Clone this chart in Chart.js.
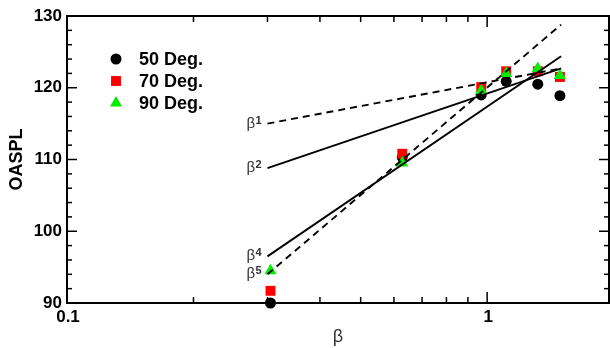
<!DOCTYPE html>
<html>
<head>
<meta charset="utf-8">
<script src="https://cdn.jsdelivr.net/npm/chart.js@4/dist/chart.umd.min.js"></script>
<style>
  body { margin: 0; background: #fff; }
  #wrap { width: 610px; height: 348px; position: relative; }
</style>
</head>
<body>
<div id="wrap"><canvas id="c"></canvas></div>
<script>
// measured OASPL vs beta for three observer angles
const beta = [0.305, 0.628, 0.968, 1.11, 1.32, 1.49];
const deg50 = [90.0, 110.3, 119.0, 120.9, 120.5, 118.9];
const deg70 = [91.7, 110.8, 120.1, 122.3, 122.3, 121.5];
const deg90 = [94.5, 109.5, 119.6, 122.0, 122.7, 121.7];

// power-law reference lines (beta^n), given at their two end points
const fitBeta = [0.3, 1.5];
const fitPowers = [1, 2, 4, 5];
const fitLevels = [
  [115.0, 122.7],
  [108.8, 122.7],
  [96.5, 124.4],
  [94.0, 128.8],
];
const fitDashed = [true, false, false, true];

const yTicks = [90, 100, 110, 120, 130];
const xTickValues = [0.1, 1];
const xTickLabels = ["0.1", "1"];

const FONT = "'Liberation Sans', Arial, Helvetica, sans-serif";

const pts = (ys) => beta.map((b, i) => ({ x: b, y: ys[i] }));

const pointSets = [
  { label: "50 Deg.", data: pts(deg50), color: "#000000", style: "circle", radius: 5.5, order: 3 },
  { label: "70 Deg.", data: pts(deg70), color: "#ff0000", style: "rect", radius: 7, order: 2 },
  { label: "90 Deg.", data: pts(deg90), color: "#00ee00", style: "triangle", radius: 7, order: 1 },
];

const datasets = pointSets.map((s) => ({
  type: "scatter",
  label: s.label,
  data: s.data,
  showLine: false,
  pointStyle: s.style,
  pointRadius: s.radius,
  pointBackgroundColor: s.color,
  pointBorderColor: s.color,
  pointBorderWidth: 0,
  order: s.order,
  clip: false,
}));

fitPowers.forEach((p, i) => {
  datasets.push({
    type: "line",
    label: "beta^" + p,
    data: fitBeta.map((b, j) => ({ x: b, y: fitLevels[i][j] })),
    borderColor: "#000",
    borderWidth: 1.9,
    borderDash: fitDashed[i] ? [7, 5] : [],
    pointRadius: 0,
    fill: false,
    order: 0,
  });
});

function tickMark(ctx, x1, y1, x2, y2) {
  ctx.beginPath();
  ctx.moveTo(x1, y1);
  ctx.lineTo(x2, y2);
  ctx.stroke();
}

// box around the plot with inward ticks on all four sides
const framePlugin = {
  id: "frame",
  beforeDatasetsDraw(chart) {
    const { ctx, chartArea: a, scales } = chart;
    ctx.save();
    ctx.strokeStyle = "#000";
    ctx.lineWidth = 2;
    ctx.strokeRect(a.left, a.top, a.right - a.left, a.bottom - a.top);
    ctx.lineWidth = 1.5;
    for (let v = 90; v <= 130; v += 2) {
      const y = scales.y.getPixelForValue(v);
      const len = v % 10 === 0 ? 10 : 5;
      tickMark(ctx, a.left, y, a.left + len, y);
      tickMark(ctx, a.right, y, a.right - len, y);
    }
    const xs = [0.1, 0.2, 0.3, 0.4, 0.5, 0.6, 0.7, 0.8, 0.9, 1];
    xs.forEach((v) => {
      const x = scales.x.getPixelForValue(v);
      const len = v === 0.1 || v === 1 ? 11 : 6;
      tickMark(ctx, x, a.bottom, x, a.bottom - len);
      tickMark(ctx, x, a.top, x, a.top + len);
    });
    // decade labels under the x axis
    ctx.fillStyle = "#000";
    ctx.font = "bold 17px " + FONT;
    ctx.textAlign = "center";
    ctx.textBaseline = "middle";
    xTickValues.forEach((v, i) => {
      ctx.fillText(xTickLabels[i], scales.x.getPixelForValue(v) + 1, a.bottom + 14);
    });
    ctx.restore();
  },
  afterDraw(chart) {
    const { ctx, scales } = chart;
    ctx.save();
    // legend inside the plot
    const lx = 116, ly = [59, 81, 103];
    pointSets.forEach((s, i) => {
      const y = ly[i];
      ctx.fillStyle = s.color;
      ctx.beginPath();
      if (s.style === "circle") {
        ctx.arc(lx, y, s.radius, 0, Math.PI * 2);
      } else if (s.style === "rect") {
        const h = s.radius * Math.SQRT1_2;
        ctx.rect(lx - h, y - h, 2 * h, 2 * h);
      } else {
        const r = s.radius;
        ctx.moveTo(lx, y - r);
        ctx.lineTo(lx + r * 0.866, y + r * 0.5);
        ctx.lineTo(lx - r * 0.866, y + r * 0.5);
        ctx.closePath();
      }
      ctx.fill();
      ctx.fillStyle = "#000";
      ctx.font = "bold 18px " + FONT;
      ctx.textAlign = "left";
      ctx.textBaseline = "middle";
      ctx.fillText(s.label, 139, y + 1);
    });
    // beta^n labels next to the start of each reference line
    fitPowers.forEach((p, i) => {
      const x = scales.x.getPixelForValue(fitBeta[0]);
      const y = scales.y.getPixelForValue(fitLevels[i][0]);
      ctx.fillStyle = "#333";
      ctx.textAlign = "left";
      ctx.textBaseline = "alphabetic";
      ctx.font = "15px " + FONT;
      ctx.fillText("\u03b2", x - 21, y + 4);
      ctx.font = "bold 11px " + FONT;
      ctx.fillText(String(p), x - 12, y);
    });
    ctx.restore();
  },
};

new Chart(document.getElementById("c"), {
  data: { datasets },
  options: {
    responsive: true,
    maintainAspectRatio: false,
    animation: false,
    layout: { autoPadding: false, padding: { top: 16, right: 1, left: 0, bottom: 0 } },
    plugins: { legend: { display: false }, tooltip: { enabled: false } },
    scales: {
      x: {
        type: "logarithmic",
        position: "bottom",
        min: 0.1,
        max: 1.95,
        afterFit: (s) => {
          s.height = 45;
          s.paddingLeft = 0;
          s.paddingRight = 0;
        },
        grid: { display: false, drawTicks: false },
        border: { display: false },
        ticks: { display: false },
        title: {
          display: true,
          text: "\u03b2",
          color: "#333",
          font: { family: FONT, size: 18 },
          padding: { top: 3, bottom: 0 },
        },
      },
      y: {
        type: "linear",
        min: 90,
        max: 130,
        afterFit: (s) => { s.width = 67; },
        afterBuildTicks: (s) => { s.ticks = yTicks.map((v) => ({ value: v })); },
        grid: { display: false, drawTicks: false },
        border: { display: false },
        ticks: {
          padding: 5,
          color: "#000",
          font: { family: FONT, size: 17, weight: "bold" },
        },
        title: {
          display: true,
          text: "OASPL",
          color: "#000",
          font: { family: FONT, size: 18, weight: "bold" },
          padding: { top: 6, bottom: 0 },
        },
      },
    },
  },
  plugins: [framePlugin],
});
</script>
</body>
</html>
